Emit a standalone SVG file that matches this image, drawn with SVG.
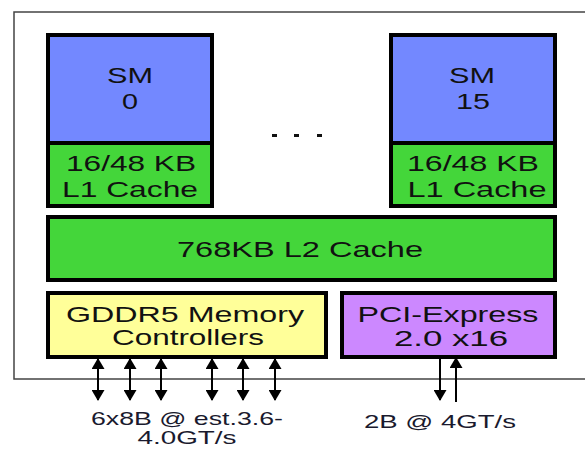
<svg xmlns="http://www.w3.org/2000/svg" width="585" height="449" viewBox="0 0 585 449">
  <style>
    .box { stroke: #000; stroke-width: 4; }
    .sm { fill: #7388ff; }
    .cache { fill: #44d63a; }
    .mem { fill: #ffff99; }
    .pci { fill: #cc88ff; }
    .t { font-family: "Liberation Sans", Arial, sans-serif; font-size: 22.5px; fill: #111; text-anchor: middle; }
    .lbl { font-family: "Liberation Sans", Arial, sans-serif; font-size: 18.5px; fill: #1a1a2e; text-anchor: middle; }
    .bus { stroke: #000; stroke-width: 2; fill: none; }
  </style>
  <defs>
    <marker id="head" viewBox="0 0 11 13" refX="10" refY="6.5" markerWidth="11" markerHeight="13" markerUnits="userSpaceOnUse" orient="auto-start-reverse">
      <path d="M0,0 L11,6.5 L0,13 Z" fill="#000"/>
    </marker>
  </defs>

  <rect width="585" height="449" fill="#fff"/>

  <!-- chip outline (continues past the right edge) -->
  <path id="chip" d="M600,12 H14 V379 H600" fill="none" stroke="#444" stroke-width="1.5"/>

  <g id="sm0">
    <rect class="box sm" x="48" y="35" width="164" height="171"/>
    <rect class="box cache" x="48" y="143" width="164" height="63"/>
    <text class="t" x="130" y="83" textLength="46" lengthAdjust="spacingAndGlyphs">SM</text>
    <text class="t" x="130" y="109" textLength="16" lengthAdjust="spacingAndGlyphs">0</text>
    <text class="t" x="131" y="171" textLength="130" lengthAdjust="spacingAndGlyphs">16/48 KB</text>
    <text class="t" x="130" y="197" textLength="136" lengthAdjust="spacingAndGlyphs">L1 Cache</text>
  </g>

  <g id="sm15">
    <rect class="box sm" x="391" y="35" width="164" height="171"/>
    <rect class="box cache" x="391" y="143" width="164" height="63"/>
    <text class="t" x="472" y="83" textLength="46" lengthAdjust="spacingAndGlyphs">SM</text>
    <text class="t" x="473" y="109" textLength="34" lengthAdjust="spacingAndGlyphs">15</text>
    <text class="t" x="473" y="171" textLength="132" lengthAdjust="spacingAndGlyphs">16/48 KB</text>
    <text class="t" x="477" y="197" textLength="139" lengthAdjust="spacingAndGlyphs">L1 Cache</text>
  </g>

  <!-- ellipsis between SMs -->
  <g id="ellipsis" fill="#111">
    <rect x="272" y="134" width="5" height="3"/>
    <rect x="294" y="134" width="5" height="3"/>
    <rect x="317" y="134" width="5" height="3"/>
  </g>

  <g id="l2">
    <rect class="box cache" x="48" y="217" width="507" height="63"/>
    <text class="t" x="300" y="257" font-size="23.5" textLength="246" lengthAdjust="spacingAndGlyphs">768KB L2 Cache</text>
  </g>

  <g id="gddr5">
    <rect class="box mem" x="48" y="293" width="278" height="64"/>
    <text class="t" x="185" y="322" textLength="238" lengthAdjust="spacingAndGlyphs">GDDR5 Memory</text>
    <text class="t" x="188" y="345" textLength="152" lengthAdjust="spacingAndGlyphs">Controllers</text>
  </g>

  <g id="pcie">
    <rect class="box pci" x="342" y="293" width="213" height="64"/>
    <text class="t" x="448" y="322" textLength="181" lengthAdjust="spacingAndGlyphs">PCI-Express</text>
    <text class="t" x="451" y="346" textLength="114" lengthAdjust="spacingAndGlyphs">2.0 x16</text>
  </g>

  <g id="connectors">
    <!-- memory buses, bidirectional -->
    <line class="bus" x1="98" y1="359" x2="98" y2="400" marker-start="url(#head)" marker-end="url(#head)"/>
    <line class="bus" x1="130" y1="359" x2="130" y2="400" marker-start="url(#head)" marker-end="url(#head)"/>
    <line class="bus" x1="161" y1="359" x2="161" y2="400" marker-start="url(#head)" marker-end="url(#head)"/>
    <line class="bus" x1="212" y1="359" x2="212" y2="400" marker-start="url(#head)" marker-end="url(#head)"/>
    <line class="bus" x1="243" y1="359" x2="243" y2="400" marker-start="url(#head)" marker-end="url(#head)"/>
    <line class="bus" x1="275" y1="359" x2="275" y2="400" marker-start="url(#head)" marker-end="url(#head)"/>
    <!-- PCI-Express lanes: out and in -->
    <line class="bus" x1="440" y1="359" x2="440" y2="400" marker-end="url(#head)"/>
    <line class="bus" x1="456" y1="402" x2="456" y2="358" marker-end="url(#head)"/>
  </g>

  <g id="labels">
    <text class="lbl" x="187" y="425" textLength="192" lengthAdjust="spacingAndGlyphs">6x8B @ est.3.6-</text>
    <text class="lbl" x="187" y="444" textLength="99" lengthAdjust="spacingAndGlyphs">4.0GT/s</text>
    <text class="lbl" x="440" y="428" textLength="152" lengthAdjust="spacingAndGlyphs">2B @ 4GT/s</text>
  </g>
</svg>
